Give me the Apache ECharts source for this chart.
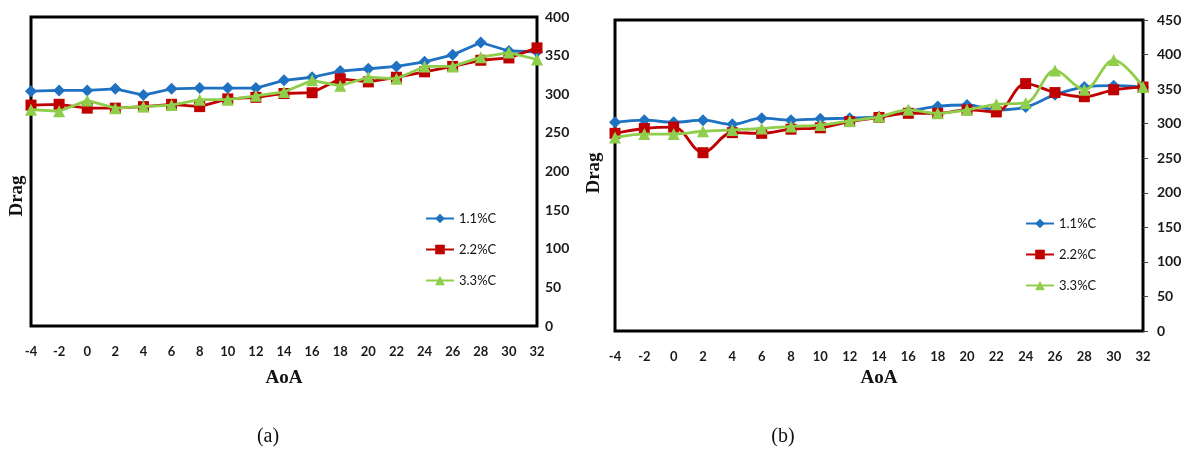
<!DOCTYPE html>
<html><head><meta charset="utf-8">
<script src="https://cdn.jsdelivr.net/npm/echarts@6/dist/echarts.min.js"></script>
<style>html,body{margin:0;padding:0;background:#fff}#c{width:1193px;height:450px}</style>
</head><body><div id="c"></div>
<script>
const aoa = ['-4','-2','0','2','4','6','8','10','12','14','16','18','20','22','24','26','28','30','32'];
const seriesNames = ['1.1%C','2.2%C','3.3%C'];
const a11 = [304, 305, 305, 307, 299, 307, 308, 308, 308, 318, 322, 330, 333, 336, 342, 351, 367, 356, 355];
const a22 = [286, 287, 282, 282, 284, 287, 284, 294, 296, 301, 302, 320, 316, 322, 329, 336, 344, 347, 360];
const a33 = [280, 278, 292, 282, 284, 286, 293, 293, 298, 303, 318, 311, 322, 320, 336, 336, 348, 354, 345];
const b11 = [302, 305, 302, 305, 299, 308, 305, 307, 308, 310, 318, 325, 327, 320, 324, 342, 353, 355, 353];
const b22 = [286, 293, 295, 258, 287, 286, 292, 294, 303, 309, 315, 315, 320, 317, 358, 345, 339, 349, 353];
const b33 = [280, 285, 285, 289, 291, 293, 296, 298, 304, 310, 320, 315, 320, 328, 330, 377, 349, 392, 353];
const yTicksA = {min:0, max:400, interval:50};
const yTicksB = {min:0, max:450, interval:50};

const colors = ['#1f72c2','#c00000','#8fce4a'];
const symbols = ['diamond','rect','triangle'];
const symSizes = [12, 11, 12];
const tickFont = {fontFamily:'Lato', fontWeight:'bold', fontSize:14, color:'#1a1a1a'};

function mkSeries(vals, idx, smooth){
  return vals.map((v,i)=>({
    name: seriesNames[i], type:'line', xAxisIndex: idx, yAxisIndex: idx,
    data: v, smooth: smooth, symbol: symbols[i], symbolSize: symSizes[i],
    lineStyle:{color:colors[i], width:2.8}, itemStyle:{color:colors[i]},
    z: 2 + i
  }));
}
const chart = echarts.init(document.getElementById('c'));
chart.setOption({
  animation:false,
  color: colors,
  grid:[
    {left:31, top:17, width:506, height:309, show:true, borderColor:'#000', borderWidth:3, backgroundColor:'#fff'},
    {left:615, top:20, width:528, height:311, show:true, borderColor:'#000', borderWidth:3, backgroundColor:'#fff'}
  ],
  xAxis:[0,1].map(i=>({
    type:'category', gridIndex:i, data:aoa, boundaryGap:false,
    axisLine:{show:false}, axisTick:{show:false},
    axisLabel:Object.assign({margin:19, interval:0}, tickFont, {fontSize:13}),
    name:'AoA', nameLocation:'middle', nameGap: i===0?43:38,
    nameTextStyle:{fontFamily:'Liberation Serif', fontWeight:'bold', fontSize:19, color:'#111'}
  })),
  yAxis:[
    Object.assign({type:'value', gridIndex:0, position:'right', splitLine:{show:false},
      axisLine:{show:false}, axisTick:{show:false},
      axisLabel:Object.assign({margin:8}, tickFont)}, yTicksA),
    Object.assign({type:'value', gridIndex:1, position:'right', splitLine:{show:false},
      axisLine:{show:false}, axisTick:{show:true, length:5, lineStyle:{color:'#444', width:1}},
      axisLabel:Object.assign({margin:14}, tickFont)}, yTicksB)
  ],
  legend:[
    {left:420, top:207, orient:'vertical', itemWidth:28, itemHeight:12, itemGap:18,
     data:seriesNames, textStyle:{fontFamily:'Lato', fontSize:13, color:'#111'}},
    {left:1020, top:212, orient:'vertical', itemWidth:28, itemHeight:12, itemGap:18,
     data:seriesNames, textStyle:{fontFamily:'Lato', fontSize:13, color:'#111'}}
  ],
  graphic:[
    {type:'text', x:17, y:196, rotation:Math.PI/2, style:{text:'Drag', font:'bold 19px "Liberation Serif"', fill:'#111', textAlign:'center', textVerticalAlign:'middle'}},
    {type:'text', x:594, y:173, rotation:Math.PI/2, style:{text:'Drag', font:'bold 19px "Liberation Serif"', fill:'#111', textAlign:'center', textVerticalAlign:'middle'}},
    {type:'text', x:268, y:437, style:{text:'(a)', font:'20px "Liberation Serif"', fill:'#111', textAlign:'center', textVerticalAlign:'middle'}},
    {type:'text', x:783, y:437, style:{text:'(b)', font:'20px "Liberation Serif"', fill:'#111', textAlign:'center', textVerticalAlign:'middle'}}
  ],
  series:[].concat(mkSeries([a11,a22,a33],0,false), mkSeries([b11,b22,b33],1,0.35))
});
</script></body></html>
